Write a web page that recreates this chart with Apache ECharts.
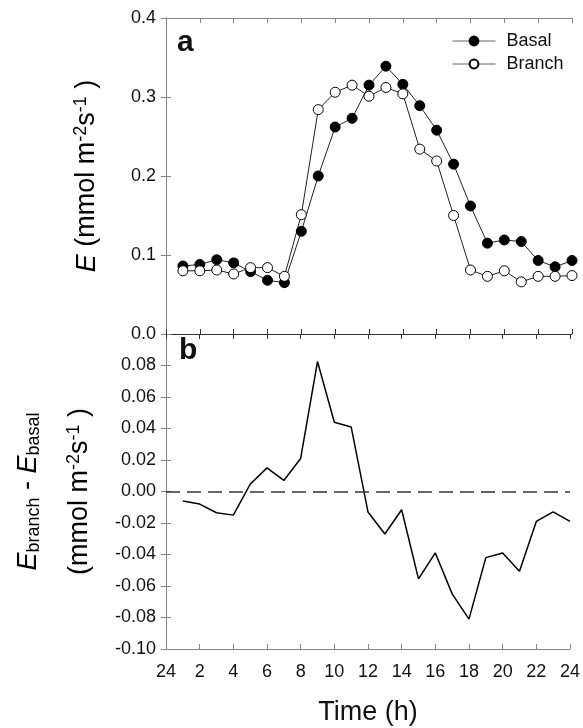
<!DOCTYPE html>
<html>
<head>
<meta charset="utf-8">
<script src="https://cdn.jsdelivr.net/npm/echarts@6/dist/echarts.min.js"></script>
<style>
html,body{margin:0;padding:0;background:#fff;}
#chart{width:583px;height:728px;}
</style>
</head>
<body>
<div id="chart"></div>
<script>
// ---- data ----
var hours = [1,2,3,4,5,6,7,8,9,10,11,12,13,14,15,16,17,18,19,20,21,22,23,24];
var basal = [0.086,0.088,0.094,0.090,0.079,0.068,0.065,0.130,0.200,0.262,0.273,0.315,0.339,0.316,0.289,0.258,0.215,0.162,0.115,0.119,0.117,0.093,0.085,0.093];
var branch = [0.080,0.080,0.081,0.076,0.084,0.084,0.073,0.151,0.284,0.306,0.315,0.301,0.312,0.304,0.234,0.219,0.150,0.081,0.073,0.080,0.066,0.073,0.073,0.074];
var diff = [-0.006,-0.008,-0.0135,-0.015,0.0046,0.015,0.007,0.021,0.0825,0.044,0.041,-0.013,-0.027,-0.0116,-0.0555,-0.039,-0.065,-0.081,-0.042,-0.039,-0.0506,-0.019,-0.0129,-0.019];
var seriesNames = ['Basal','Branch'];
var xTickLabels = {0:'24'};
var xLabel = 'Time (h)';

function pairs(xs, ys){ return xs.map(function(x,i){ return [x, ys[i]]; }); }

var FONT = '"Liberation Sans", Arial, Helvetica, sans-serif';
var FRAME = '#858585';
var DARK = '#333';

function xAx(gridIndex, position, showLabels, lineColor){
  return {
    type:'value', gridIndex:gridIndex, position:position, min:0, max:24, interval:2,
    axisLine:{show:true, onZero:false, lineStyle:{color:lineColor, width:1}},
    axisTick:{show:true, inside:true, length:5, lineStyle:{color:lineColor}},
    axisLabel:{show:showLabels, margin:14, color:'#111', fontSize:18, fontFamily:FONT,
      formatter:function(v){ return xTickLabels[v] !== undefined ? xTickLabels[v] : String(v); }},
    splitLine:{show:false}
  };
}

var chart = echarts.init(document.getElementById('chart'), null, {renderer:'canvas'});
var xBottom = xAx(1,'bottom',true,FRAME);
xBottom.name = xLabel;
xBottom.nameLocation = 'middle';
xBottom.nameGap = 50;
xBottom.nameTextStyle = {fontSize:27, color:'#111', fontFamily:FONT};

var option = {
  animation:false,
  backgroundColor:'#fff',
  textStyle:{fontFamily:FONT},
  grid:[
    {left:166, right:11, top:18, height:316},
    {left:166, right:11, top:334, height:315}
  ],
  xAxis:[
    xAx(0,'bottom',false,DARK),
    xAx(0,'top',false,FRAME),
    xBottom,
    xAx(1,'top',false,DARK)
  ],
  yAxis:[
    {type:'value', gridIndex:0, position:'left', min:0, max:0.4, interval:0.1,
     axisLine:{show:true, lineStyle:{color:FRAME}},
     axisTick:{show:true, inside:true, length:5, lineStyle:{color:FRAME}},
     axisLabel:{margin:10, color:'#111', fontSize:18, fontFamily:FONT, formatter:function(v){return v.toFixed(1);}},
     splitLine:{show:false},
     name:'{e|E}{n| (mmol m}{sup|-2}{n|s}{sup|-1}{n| )}',
     nameLocation:'middle', nameRotate:90, nameGap:64,
     nameTextStyle:{color:'#000', fontFamily:FONT,
       rich:{
         e:{fontSize:27, fontStyle:'italic', fontFamily:FONT, color:'#000', lineHeight:30},
         n:{fontSize:27, fontFamily:FONT, color:'#000', lineHeight:30},
         sup:{fontSize:18, fontFamily:FONT, color:'#000', verticalAlign:'top', lineHeight:16}
       }}
    },
    {type:'value', gridIndex:0, position:'right', min:0, max:0.4, interval:0.1,
     axisLine:{show:true, lineStyle:{color:FRAME}},
     axisTick:{show:true, inside:true, length:5, lineStyle:{color:FRAME}},
     axisLabel:{show:false}, splitLine:{show:false}},
    {type:'value', gridIndex:1, position:'left', min:-0.1, max:0.1, interval:0.02,
     axisLine:{show:true, lineStyle:{color:FRAME}},
     axisTick:{show:true, inside:true, length:5, lineStyle:{color:FRAME}},
     axisLabel:{margin:10, color:'#111', fontSize:18, fontFamily:FONT, showMaxLabel:false,
       formatter:function(v){ return (Math.abs(v)<1e-9?0:v).toFixed(2);}},
     splitLine:{show:false},
     name:'{e|E}{sub|branch}{n| - }{e|E}{sub|basal}\n{gap| }\n{n|(mmol m}{sup|-2}{n|s}{sup|-1}{n| )}',
     nameLocation:'middle', nameRotate:90, nameGap:71,
     nameTextStyle:{color:'#000', fontFamily:FONT, align:'center',
       rich:{
         e:{fontSize:27, fontStyle:'italic', fontFamily:FONT, color:'#000', lineHeight:30},
         n:{fontSize:27, fontFamily:FONT, color:'#000', lineHeight:30},
         gap:{fontSize:4, lineHeight:22},
         sup:{fontSize:18, fontFamily:FONT, color:'#000', verticalAlign:'top', lineHeight:16},
         sub:{fontSize:18, fontFamily:FONT, color:'#000', verticalAlign:'bottom', lineHeight:14}
       }}
    },
    {type:'value', gridIndex:1, position:'right', min:-0.1, max:0.1, interval:0.02,
     axisLine:{show:true, lineStyle:{color:FRAME}},
     axisTick:{show:true, inside:true, length:5, lineStyle:{color:FRAME}},
     axisLabel:{show:false}, splitLine:{show:false}}
  ],
  legend:{
    data:seriesNames, orient:'vertical', left:452, top:32, padding:0,
    itemWidth:43, itemHeight:11, itemGap:5,
    textStyle:{fontSize:18, color:'#111', fontFamily:FONT, padding:[0,0,0,6]},
    lineStyle:{color:'#666', width:1}
  },
  series:[
    {name:seriesNames[0], type:'line', xAxisIndex:0, yAxisIndex:0, data:pairs(hours,basal),
     symbol:'circle', symbolSize:10, showAllSymbol:true,
     lineStyle:{color:'#222', width:1},
     itemStyle:{color:'#000', borderColor:'#000', borderWidth:1}},
    {name:seriesNames[1], type:'line', xAxisIndex:0, yAxisIndex:0, data:pairs(hours,branch),
     symbol:'circle', symbolSize:10, showAllSymbol:true,
     lineStyle:{color:'#222', width:1},
     itemStyle:{color:'#fff', borderColor:'#000', borderWidth:1}},
    {name:'diff', type:'line', xAxisIndex:2, yAxisIndex:2, data:pairs(hours,diff),
     symbol:'none', lineStyle:{color:'#000', width:1.5},
     markLine:{silent:true, symbol:['none','none'], label:{show:false},
       lineStyle:{color:'#333', width:1.5, type:[14,7]},
       data:[{yAxis:0}]}}
  ],
  graphic:[
    {type:'text', left:177, top:28, style:{text:'a', fontSize:30, fontWeight:'bold', fontFamily:FONT, fill:'#111'}},
    {type:'text', left:179, top:336, style:{text:'b', fontSize:30, fontWeight:'bold', fontFamily:FONT, fill:'#111'}}
  ]
};
chart.setOption(option);
</script>
</body>
</html>
